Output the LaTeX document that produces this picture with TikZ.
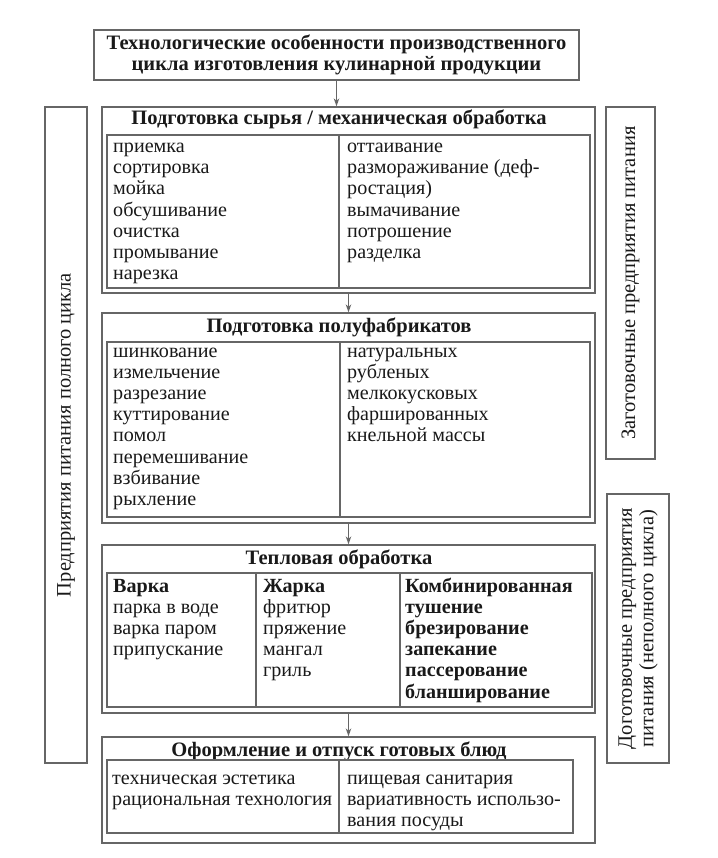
\documentclass[tikz,border=0pt]{standalone}
\usepackage{fontspec}
\setmainfont{Liberation Serif}
\usetikzlibrary{arrows.meta}

\begin{document}
\begin{tikzpicture}[x=1pt, y=-1pt, >={Stealth[length=8pt, width=5.5pt]}]
	\useasboundingbox (0,0) rectangle (717,858);
	\tikzstyle{frame}=[draw=black!60, line width=1.3pt]
	\tikzstyle{block}=[frame, rectangle, inner sep=0pt]
	\tikzstyle{item}=[anchor=base west, inner sep=0pt, text=black!90, font=\fontsize{20.1}{21.2}\selectfont]
	\tikzstyle{head}=[anchor=base, inner sep=0pt, text=black!90, font=\fontsize{20.5}{21.2}\selectfont\bfseries]
	\tikzstyle{side}=[rotate=90, inner sep=0pt, align=center, text=black!90, font=\fontsize{20.5}{21.5}\selectfont]
	
	% TOP
	\path (336.5,55) node[block, minimum width=485pt, minimum height=50pt, align=center, text=black!90, font=\fontsize{20.5}{21}\selectfont\bfseries] (tech) {Технологические особенности производственного\\цикла изготовления кулинарной продукции};
	
	% RAW
	\path (348.5,200) node[block, minimum width=493pt, minimum height=186pt] (raw) {};
	\path (339,125) node[head] (rawhead) {Подготовка сырья / механическая обработка};
	\draw[frame] (107,135) rectangle (590,288);
	\draw[frame] (339,135) -- (339,288);
	\foreach \t [count=\i from 0] in {приемка, сортировка, мойка, обсушивание, очистка, промывание, нарезка}
		\path (113,{152.5+21.2*\i}) node[item] (rawl\i) {\t};
	\foreach \t [count=\i from 0] in {оттаивание, размораживание (деф-, ростация), вымачивание, потрошение, разделка}
		\path (347,{152.5+21.2*\i}) node[item] (rawr\i) {\t};
	
	% SEMI
	\path (348.5,418) node[block, minimum width=493pt, minimum height=210pt] (semi) {};
	\path (339,332) node[head] (semihead) {Подготовка полуфабрикатов};
	\draw[frame] (107,342) rectangle (590,517);
	\draw[frame] (340,342) -- (340,517);
	\foreach \t [count=\i from 0] in {шинкование, измельчение, разрезание, куттирование, помол, перемешивание, взбивание, рыхление}
		\path (113,{357+21.2*\i}) node[item] (semil\i) {\t};
	\foreach \t [count=\i from 0] in {натуральных, рубленых, мелкокусковых, фаршированных, кнельной массы}
		\path (347,{357+21.2*\i}) node[item] (semir\i) {\t};
	
	% HEAT
	\path (348.5,629) node[block, minimum width=493pt, minimum height=168pt] (heat) {};
	\path (339,564) node[head] (heathead) {Тепловая обработка};
	\draw[frame] (107,573) rectangle (592,707);
	\draw[frame] (256,573) -- (256,707);
	\draw[frame] (400,573) -- (400,707);
	\foreach \t [count=\i from 0] in {\textbf{Варка}, парка в воде, варка паром, припускание}
		\path (113,{592+21.2*\i}) node[item] (heata\i) {\t};
	\foreach \t [count=\i from 0] in {\textbf{Жарка}, фритюр, пряжение, мангал, гриль}
		\path (263,{592+21.2*\i}) node[item] (heatb\i) {\t};
	\foreach \t [count=\i from 0] in {Комбинированная, тушение, брезирование, запекание, пассерование, бланширование}
		\path (405,{592+21.2*\i}) node[item, font=\fontsize{20.1}{21.2}\selectfont\bfseries] (heatc\i) {\t};
	
	% SERVE
	\path (348.5,790) node[block, minimum width=493pt, minimum height=106pt] (serve) {};
	\path (339,756) node[head] (servehead) {Оформление и отпуск готовых блюд};
	\draw[frame] (107,760) rectangle (573,833);
	\draw[frame] (339,760) -- (339,833);
	\foreach \t [count=\i from 0] in {техническая эстетика, рациональная технология}
		\path (112,{784+21.2*\i}) node[item] (servel\i) {\t};
	\foreach \t [count=\i from 0] in {пищевая санитария, вариативность использо-, вания посуды}
		\path (347,{784+21.2*\i}) node[item] (server\i) {\t};
	
	% ARROWS
	\draw[frame, ->] (tech.south) -- (tech.south |- raw.north);
	\draw[frame, ->] (raw) -- (semi);
	\draw[frame, ->] (semi) -- (heat);
	\draw[frame, ->] (heat) -- (serve);
	
	% SIDES
	\path (66,435) node[block, minimum width=42pt, minimum height=656pt] (full) {};
	\path (full.center) node[side] (fulltext) {Предприятия питания полного цикла};
	\path (630.5,283) node[block, minimum width=49pt, minimum height=352pt] (prep) {};
	\path (prep.center) node[side] (preptext) {Заготовочные предприятия питания};
	\path (638,628.5) node[block, minimum width=62pt, minimum height=269pt] (finish) {};
	\path (finish.center) node[side] (finishtext) {Доготовочные предприятия\\питания (неполного цикла)};
	
\end{tikzpicture}
\end{document}
